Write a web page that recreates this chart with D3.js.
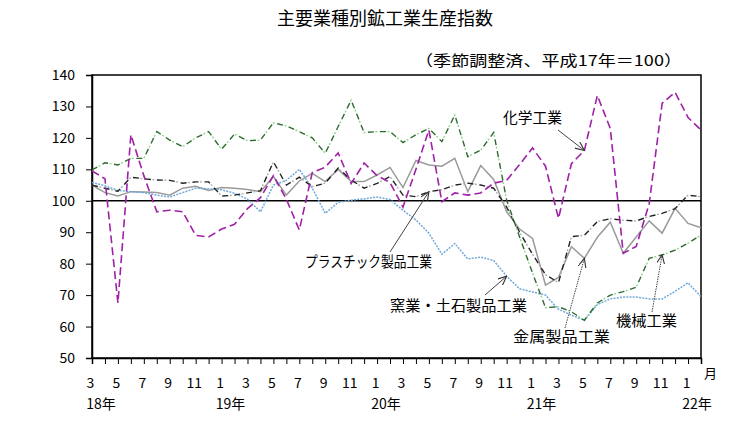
<!DOCTYPE html>
<html><head><meta charset="utf-8">
<script src="https://cdn.jsdelivr.net/npm/d3@7"></script>
<style>body{margin:0;background:#fff}svg{display:block}text{font-family:'Noto Sans CJK JP','Noto Sans',sans-serif;fill:#000}</style>
</head><body><svg id="c" width="738" height="444"></svg>
<script>
const months = [3,4,5,6,7,8,9,10,11,12,1,2, 3,4,5,6,7,8,9,10,11,12,1,2, 3,4,5,6,7,8,9,10,11,12,1,2, 3,4,5,6,7,8,9,10,11,12,1,2];
const yearLabels = ["18年","19年","20年","21年","22年"];
const yearIndex = [0,10,22,34,46];
const yTicks = [50,60,70,80,90,100,110,120,130,140];

const chemical = [109.5,107,67.5,121,108,96.5,97,96.5,89,88.5,91,92.5, 97.5,101,108,100.5,90.7,109,110.7,115.2,105.5,112,108,105.8, 98,110,122.5,99.7,102.5,101.8,102.5,105.6,106.5,111.5,116.8,111, 94.4,111.8,116,133.5,123,83.3,85.5,99,131,134.5,126.5,122.5];
const machinery = [109.8,112.1,111.4,113.5,113.5,122,119.3,117.2,120,122,116.4,121.2, 119.1,119.3,124.8,123.8,122,120,115.1,123.6,132,121.7,122,122, 118.5,121,123,118.8,127.3,114,116.1,121.7,100.2,88.5,77,66, 66.3,64.7,62,67.5,70,71.1,72.5,81.7,82.8,84.3,86.5,89.1];
const plastic = [105,104,103,107.5,107,106.6,106.5,105.6,106,106,101.5,101.8, 102.5,103.2,112.4,105,107.5,104.5,105.6,110.4,106.6,104,105.5,107.7, 101.8,101.3,102.9,103.5,105,105.6,105,104,98,90,83,76.5, 74,88.6,89,93.4,94.3,93.8,93.6,95,96,97.5,101.8,101.3];
const metal = [105,102.6,101.5,102.9,102.8,102.6,101.8,104,104.6,103.3,104.2,104, 103.6,102.9,107.7,101.8,106.3,108.7,106.1,110,106.1,106.1,108.2,110.6, 104.2,112.8,111.4,111,113.5,102.9,111.2,106.8,96.5,91,88,73.2, 75.6,85.4,81.7,88.4,93.2,83.3,88.5,93.6,89.7,97.6,92.8,91.4];
const ceramic = [105.8,104.8,103.3,102.9,102.6,101.8,101.2,102.6,104,103.8,103.5,102.4, 100.5,96.5,105,106.5,110,104,96,99.5,100.2,100.6,101.2,100.4, 97,93.9,89.7,83,86.4,81.5,82.1,81,76,72,71,70, 65.5,63.6,62,67,68.8,69.4,69.4,68.8,68.8,71.2,73.9,69.5];

const svg = d3.select("#c");
const L=92, R=701, T=75, B=358;
const x = d3.scaleLinear().domain([0, months.length-1]).range([L, R]);
const y = d3.scaleLinear().domain([50,140]).range([B, T]);

svg.append("rect").attr("width",738).attr("height",444).attr("fill","#fff");

svg.append("text").attr("x",385).attr("y",25).attr("text-anchor","middle").attr("font-size",18).text("主要業種別鉱工業生産指数");
svg.append("text").attr("x",415).attr("y",66).attr("font-size",15).attr("textLength",267).attr("lengthAdjust","spacingAndGlyphs").text("（季節調整済、平成17年＝100）");

svg.append("rect").attr("x",L).attr("y",T).attr("width",R-L).attr("height",B-T).attr("fill","none").attr("stroke","#000").attr("stroke-width",1.5);

const ya = svg.append("g").attr("transform",`translate(${L},0)`)
  .call(d3.axisLeft(y).tickValues(yTicks).tickSize(6).tickPadding(11).tickFormat(d3.format("d")));
ya.select(".domain").attr("stroke","#000").attr("stroke-width",1.5);
ya.selectAll("text").attr("font-size",14).style("font-family","'Noto Sans CJK JP'");

const xa = svg.append("g").attr("transform",`translate(0,${B})`)
  .call(d3.axisBottom(x).tickValues(d3.range(months.length)).tickSize(6).tickFormat(i => months[i] % 2 === 1 ? months[i] : ""));
xa.select(".domain").attr("stroke","#000").attr("stroke-width",1.5);
xa.selectAll("text").attr("font-size",14).attr("dy",0).attr("y",30).attr("dx",-2).style("font-family","'Noto Sans CJK JP'");

svg.selectAll(".yr").data(yearLabels).join("text").attr("class","yr")
  .attr("x",(d,k)=>x(yearIndex[k])+9).attr("y",409).attr("text-anchor","middle").attr("font-size",14).text(d=>d);
svg.append("text").attr("x",704).attr("y",378).attr("font-size",13).text("月");

svg.append("line").attr("x1",L).attr("x2",R).attr("y1",y(100)).attr("y2",y(100)).attr("stroke","#000").attr("stroke-width",1.5);

const line = d3.line().x((d,i)=>x(i)).y(d=>y(d));
function draw(data, stroke, dash, w){
  svg.append("path").datum(data).attr("d",line).attr("fill","none").attr("stroke",stroke)
    .attr("stroke-width",w).attr("stroke-dasharray",dash);
}
draw(metal, "#9a9a9a", null, 1.5);
draw(ceramic, "#6fa8dc", "2,1.2", 1.5);
draw(plastic, "#222", "6,6", 1.4);
draw(plastic, "#b0b0b0", "0,7.5,2,2.5", 1.4);
draw(machinery, "#2e6b2e", "6,6", 1.4);
draw(machinery, "#8fd88f", "0,7.5,2,2.5", 1.4);
draw(chemical, "#a020a8", "8,4", 1.6);

const defs = svg.append("defs");
defs.append("marker").attr("id","ah").attr("markerUnits","userSpaceOnUse").attr("markerWidth",10).attr("markerHeight",10)
  .attr("refX",9).attr("refY",4).attr("orient","auto")
  .append("path").attr("d","M0,0 L9,4 L0,8").attr("fill","none").attr("stroke","#333").attr("stroke-width",1.1);

const notes = [
  {t:"化学工業", tx:503, ty:123, len:59, sx:558, sy:130, s:chemical, i:38, dash:null},
  {t:"プラスチック製品工業", tx:305, ty:267, len:127, sx:390, sy:252, s:plastic, i:26, dash:null},
  {t:"窯業・土石製品工業", tx:390, ty:311, len:137, sx:485, sy:295, s:ceramic, i:32, dash:null},
  {t:"金属製品工業", tx:513, ty:342, len:97, sx:565, sy:328, s:metal, i:38, dash:"1.5,1"},
  {t:"機械工業", tx:616, ty:326, len:61, sx:652, sy:312, s:machinery, i:44, dash:"1.5,1"}
];
notes.forEach(n=>{
  svg.append("text").attr("x",n.tx).attr("y",n.ty).attr("font-size",15).attr("textLength",n.len)
    .attr("lengthAdjust","spacingAndGlyphs").text(n.t);
  svg.append("line").attr("x1",n.sx).attr("y1",n.sy).attr("x2",x(n.i)).attr("y2",y(n.s[n.i]))
    .attr("stroke","#444").attr("stroke-width",1).attr("stroke-dasharray",n.dash).attr("marker-end","url(#ah)");
});
</script></body></html>
